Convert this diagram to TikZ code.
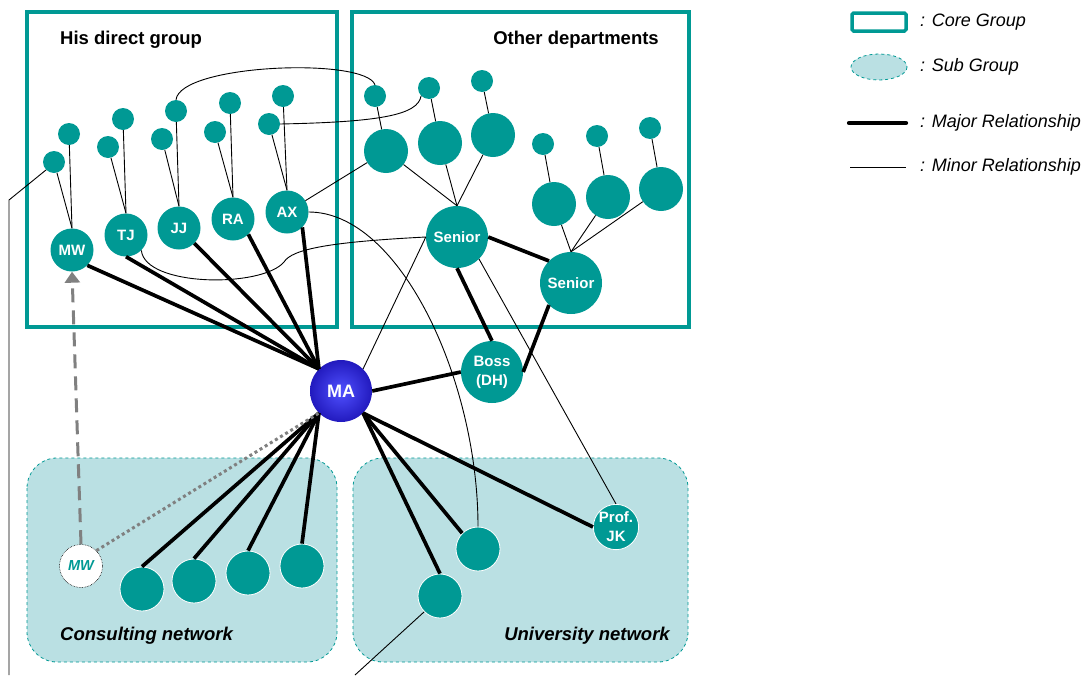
\documentclass[tikz,border=0pt]{standalone}
\usepackage{fontspec}
\setmainfont{Liberation Sans}
\usetikzlibrary{arrows.meta,shapes.geometric}

\definecolor{netteal}{RGB}{0,153,148}
\definecolor{sublight}{RGB}{186,224,227}
\definecolor{linkgray}{RGB}{128,128,128}
\definecolor{maouter}{RGB}{34,26,190}
\definecolor{mainner}{RGB}{80,80,255}

\begin{document}
\begin{tikzpicture}[x=1pt,y=-1pt,
  member/.style={circle, fill=netteal, inner sep=0pt, text=white,
    font=\bfseries\fontsize{15}{19}\selectfont, align=center},
  leaf/.style={member, minimum size=22pt},
  mid/.style={member, minimum size=43pt},
  big/.style={member, minimum size=44pt},
  senior/.style={member, minimum size=62pt},
  outside/.style={member, minimum size=44pt, draw=white, line width=0.8pt},
  coregrp/.style={draw=netteal, line width=3.5pt},
  subgrp/.style={fill=sublight, draw=netteal, dashed, line width=0.8pt},
  major/.style={line width=3.7pt},
  minor/.style={line width=0.9pt},
  title/.style={font=\bfseries\fontsize{18.5}{22}\selectfont, inner sep=0pt},
  legendtext/.style={font=\itshape\fontsize{18}{22}\selectfont, anchor=west, inner sep=0pt}
]
\useasboundingbox (0,0) rectangle (1087,675);

% ---- sub groups (background) ----
\draw[subgrp, rounded corners=30pt] (27,458) rectangle (337,662);
\draw[subgrp, rounded corners=30pt] (353,458) rectangle (688,662);

% ---- core groups ----
\draw[coregrp] (27,12) rectangle (337,327);
\draw[coregrp] (352,12) rectangle (689,327);

\node[title, anchor=west] (tdirect) at (60,40) {His direct group};
\node[title, anchor=east] (tother) at (659,40) {Other departments};
\node[legendtext, font=\bfseries\itshape\fontsize{18.5}{22}\selectfont] (tcons) at (60,636) {Consulting network};
\node[legendtext, font=\bfseries\itshape\fontsize{18.5}{22}\selectfont, anchor=east] (tuni) at (670,636) {University network};

% ---- his direct group ----
\node[mid] (MW) at (72,250) {MW};
\node[mid] (TJ) at (126,235) {TJ};
\node[mid] (JJ) at (179,228) {JJ};
\node[mid] (RA) at (233,219) {RA};
\node[mid] (AX) at (287,212) {AX};

\node[leaf] (MWa) at (54,162) {};
\node[leaf] (MWb) at (69,134) {};
\node[leaf] (TJa) at (108,147) {};
\node[leaf] (TJb) at (123,119) {};
\node[leaf] (JJa) at (162,139) {};
\node[leaf] (JJb) at (176,111) {};
\node[leaf] (RAa) at (215,132) {};
\node[leaf] (RAb) at (230,103) {};
\node[leaf] (AXa) at (269,124) {};
\node[leaf] (AXb) at (283,96) {};

% ---- other departments ----
\node[senior] (S1) at (457,237) {Senior};
\node[senior] (S2) at (571,283) {Senior};

\node[leaf] (ODa) at (375,96) {};
\node[leaf] (ODb) at (429,88) {};
\node[leaf] (ODc) at (482,81) {};
\node[big] (OBa) at (386,151) {};
\node[big] (OBb) at (440,143) {};
\node[big] (OBc) at (493,135) {};

\node[leaf] (RSa) at (543,144) {};
\node[leaf] (RSb) at (597,136) {};
\node[leaf] (RSc) at (650,128) {};
\node[big] (RBa) at (554,204) {};
\node[big] (RBb) at (608,197) {};
\node[big] (RBc) at (661,189) {};

\node[senior] (Boss) at (492,372) {Boss\\(DH)};

% ---- centre ----
\node[circle, minimum size=62pt, inner sep=0pt, shading=radial,
  inner color=mainner, outer color=maouter, text=white,
  font=\bfseries\fontsize{18}{20}\selectfont] (MA) at (341,391) {MA};

% ---- consulting network ----
\node[circle, minimum size=43pt, inner sep=0pt, fill=white, draw=black,
  densely dotted, line width=0.6pt, text=netteal,
  font=\bfseries\itshape\fontsize{14.5}{16}\selectfont] (MWc) at (81,566) {MW};
\node[outside] (C1) at (142,589) {};
\node[outside] (C2) at (194,581) {};
\node[outside] (C3) at (248,573) {};
\node[outside] (C4) at (302,566) {};

% ---- university network ----
\node[outside] (U1) at (478,549) {};
\node[outside] (U2) at (440,596) {};
\node[outside, minimum size=42pt, font=\bfseries\fontsize{15}{19}\selectfont] (PJK) at (616,527) {Prof.\\JK};

% ---- minor relationships inside groups ----
\foreach \c/\p in {MWa/MW,MWb/MW,TJa/TJ,TJb/TJ,JJa/JJ,JJb/JJ,RAa/RA,RAb/RA,AXa/AX,AXb/AX}
  \draw[minor] (\c) -- (\p.north);
\foreach \c/\p in {ODa/OBa,ODb/OBb,ODc/OBc,RSa/RBa,RSb/RBb,RSc/RBc}
  \draw[minor] (\c) -- (\p);
\foreach \b in {OBa,OBb,OBc}
  \draw[minor] (\b) -- (S1.north);
\foreach \b in {RBa,RBb,RBc}
  \draw[minor] (\b) -- (S2.north);

% ---- minor relationships across groups ----
\draw[minor] (AX) -- (OBa);
\draw[minor] (JJb.north) .. controls (180,64) and (365,57) .. (ODa.north);
\draw[minor] (AXa.east) .. controls (380,122) and (418,115) .. (ODb.south west);
\draw[minor] (TJ.south east) .. controls (145,287) and (262,288) .. (284,262)
  .. controls (292,249) and (330,242) .. (S1.west);
\draw[minor] (AX.east) .. controls (400,212) and (478,380) .. (U1.north);
\draw[minor] (MA.north east) -- (S1.west);
\draw[minor] (S1.south east) -- (PJK.north);
\coordinate (edgeL) at (9,200);
\coordinate (edgeLb) at (9,675);
\coordinate (edgeU) at (355,675);
\draw[minor] (MWa.south west) -- (edgeL) -- (edgeLb);
\draw[minor] (U2.south west) -- (edgeU);

% ---- major relationships ----
\draw[major] (MW.south east) -- (MA.north west);
\draw[major] (TJ.south) -- (MA.north west);
\draw[major] (JJ.south east) -- (MA.north west);
\draw[major] (RA.south east) -- (MA.north west);
\draw[major] (AX.south east) -- (MA.north west);
\draw[major] (MA.east) -- (Boss.west);
\draw[major] (S1.south) -- (Boss.north);
\draw[major] (S1.east) -- (S2.north west);
\draw[major] (S2.south west) -- (Boss.east);
\foreach \n in {C1,C2,C3,C4}
  \draw[major] (\n.north) -- (MA.south west);
\draw[major] (MA.south east) -- (U1.north west);
\draw[major] (MA.south east) -- (U2.north);
\draw[major] (MA.south east) -- (PJK.west);

% ---- MW moving between groups ----
\draw[linkgray, line width=3pt, dash pattern=on 14pt off 8pt,
  -{Triangle[length=11pt,width=15pt]}] (MWc.north) -- (MW.south);
\draw[linkgray, line width=3pt, dash pattern=on 3pt off 3pt]
  (MWc.north east) -- (MA.south west);

% ---- legend ----
\draw[coregrp, rounded corners=1.5pt] (852,13) rectangle (906,31);
\node[legendtext] (lcore) at (920,22) {: Core Group};
\draw[subgrp] (879,67) ellipse [x radius=28, y radius=13];
\node[legendtext] (lsub) at (920,67) {: Sub Group};
\coordinate (lma) at (849,123);
\coordinate (lmb) at (906,123);
\draw[major, line width=4.2pt, line cap=round] (lma) -- (lmb);
\node[legendtext] (lmajor) at (920,123) {: Major Relationship};
\coordinate (lna) at (850,167);
\coordinate (lnb) at (906,167);
\draw[minor] (lna) -- (lnb);
\node[legendtext] (lminor) at (920,167) {: Minor Relationship};
\end{tikzpicture}
\end{document}
